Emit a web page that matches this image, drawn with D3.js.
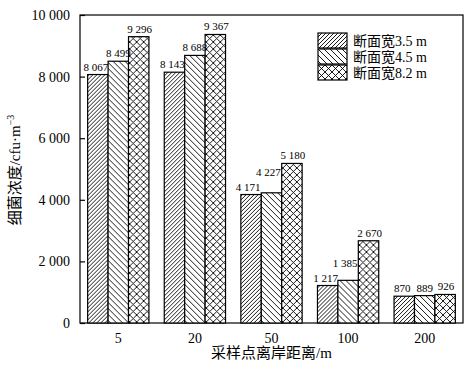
<!DOCTYPE html>
<html>
<head>
<meta charset="utf-8">
<script src="https://cdn.jsdelivr.net/npm/d3@7"></script>
<style>
body { margin: 0; background: #fff; }
text { font-family: "Liberation Serif", "Noto Sans CJK SC", serif; fill: #000; }
</style>
</head>
<body>
<div id="chart"></div>
<script>
// data
var distances = ["5", "20", "50", "100", "200"];
var seriesNames = ["断面宽3.5 m", "断面宽4.5 m", "断面宽8.2 m"];
var width35 = [8067, 8143, 4171, 1217, 870];
var width45 = [8499, 8688, 4227, 1385, 889];
var width82 = [9296, 9367, 5180, 2670, 926];
var yTicks = [0, 2000, 4000, 6000, 8000, 10000];

var series = [width35, width45, width82];
var patterns = ["p1", "p2", "p3"];

var W = 473, H = 372;
var m = {left: 80, right: 10, top: 15, bottom: 49};

var svg = d3.select("#chart").append("svg")
    .attr("width", W)
    .attr("height", H);

// hatch patterns
var defs = svg.append("defs");
var p1 = defs.append("pattern").attr("id", "p1")
    .attr("patternUnits", "userSpaceOnUse")
    .attr("width", 4).attr("height", 4);
p1.append("rect").attr("width", 4).attr("height", 4).attr("fill", "#fff");
p1.append("path").attr("d", "M-1,1 l2,-2 M0,4 l4,-4 M3,5 l2,-2")
    .attr("stroke", "#000").attr("stroke-width", 0.9);

var p2 = defs.append("pattern").attr("id", "p2")
    .attr("patternUnits", "userSpaceOnUse")
    .attr("width", 6).attr("height", 6);
p2.append("rect").attr("width", 6).attr("height", 6).attr("fill", "#fff");
p2.append("path").attr("d", "M-1,5 l2,2 M0,0 l6,6 M5,-1 l2,2")
    .attr("stroke", "#000").attr("stroke-width", 0.9);

var p3 = defs.append("pattern").attr("id", "p3")
    .attr("patternUnits", "userSpaceOnUse")
    .attr("width", 7).attr("height", 7);
p3.append("rect").attr("width", 7).attr("height", 7).attr("fill", "#fff");
p3.append("path").attr("d", "M0,0 l7,7 M0,7 l7,-7 M-1,1 l2,-2 M6,8 l2,-2 M-1,6 l2,2 M6,-1 l2,2")
    .attr("stroke", "#000").attr("stroke-width", 0.9);

var x0 = d3.scaleBand()
    .domain(distances)
    .range([m.left, W - m.right])
    .paddingInner(0.2)
    .paddingOuter(0.1);

var x1 = d3.scaleBand()
    .domain([0, 1, 2])
    .range([0, x0.bandwidth()]);

var y = d3.scaleLinear()
    .domain([0, 10000])
    .range([H - m.bottom, m.top]);

var fmt = function(d) { return d3.format(",")(d).replace(/,/g, " "); };

// frame
svg.append("rect")
    .attr("x", m.left).attr("y", m.top)
    .attr("width", W - m.right - m.left)
    .attr("height", H - m.bottom - m.top)
    .attr("fill", "none").attr("stroke", "#000").attr("stroke-width", 1.2);

// bars
var groups = svg.selectAll("g.grp")
    .data(distances)
    .enter().append("g")
    .attr("class", "grp")
    .attr("transform", function(d) { return "translate(" + x0(d) + ",0)"; });

groups.selectAll("rect")
    .data(function(d, i) { return series.map(function(s, k) { return {k: k, v: s[i], g: i}; }); })
    .enter().append("rect")
    .attr("x", function(d) { return x1(d.k); })
    .attr("y", function(d) { return y(d.v); })
    .attr("width", x1.bandwidth())
    .attr("height", function(d) { return y(0) - y(d.v); })
    .attr("fill", function(d) { return "url(#" + patterns[d.k] + ")"; })
    .attr("stroke", "#000").attr("stroke-width", 1.2);

// value labels, nudged where neighbours would collide
groups.selectAll("text")
    .data(function(d, i) { return series.map(function(s, k) { return {k: k, v: s[i], g: i}; }); })
    .enter().append("text")
    .attr("x", function(d) {
        var dx = 0;
        if (d.k == 0) dx = -2;
        if (d.k == 2) dx = 1;
        if (d.k == 1 && (d.g == 2 || d.g == 3)) dx = -3;
        if (d.k == 0 && d.g == 2) dx = -3;
        return x1(d.k) + x1.bandwidth() / 2 + dx;
    })
    .attr("y", function(d) {
        var dy = 0;
        if (d.k == 1 && d.g == 2) dy = -13;
        if (d.k == 1 && d.g == 3) dy = -9;
        return y(d.v) - 4 + dy;
    })
    .attr("text-anchor", "middle")
    .attr("font-size", 11)
    .text(function(d) { return fmt(d.v); });

// y axis
var yAxis = d3.axisLeft(y).tickValues(yTicks).tickSizeInner(-5).tickSizeOuter(0).tickPadding(10).tickFormat(fmt);
var gy = svg.append("g").attr("transform", "translate(" + m.left + ",0)").call(yAxis);
gy.select(".domain").remove();
gy.selectAll("text").attr("font-size", 14).attr("font-family", "Liberation Serif");
gy.selectAll("line").attr("stroke-width", 1.2);

// x axis
var xAxis = d3.axisBottom(x0).tickSize(0).tickPadding(10);
var gx = svg.append("g").attr("transform", "translate(0," + (H - m.bottom) + ")").call(xAxis);
gx.select(".domain").remove();
gx.selectAll("text").attr("font-size", 14).attr("font-family", "Liberation Serif");

// axis titles
svg.append("text")
    .attr("x", (m.left + W - m.right) / 2)
    .attr("y", 358)
    .attr("text-anchor", "middle")
    .attr("font-size", 15)
    .text("采样点离岸距离/m");

var yt = svg.append("text")
    .attr("transform", "translate(20," + 170 + ") rotate(-90)")
    .attr("text-anchor", "middle")
    .attr("font-size", 15);
yt.append("tspan").text("细菌浓度/cfu·m");
yt.append("tspan").attr("dy", -6).attr("font-size", 10).text("−3");

// legend
var lg = svg.append("g").attr("transform", "translate(318,33)");
var items = lg.selectAll("g").data(seriesNames).enter().append("g")
    .attr("transform", function(d, i) { return "translate(0," + i * 16 + ")"; });
items.append("rect")
    .attr("width", 29).attr("height", 15)
    .attr("fill", function(d, i) { return "url(#" + patterns[i] + ")"; })
    .attr("stroke", "#000").attr("stroke-width", 1.2);
items.append("text")
    .attr("x", 35).attr("y", 12.5)
    .attr("font-size", 14)
    .text(function(d) { return d; });
</script>
</body>
</html>
